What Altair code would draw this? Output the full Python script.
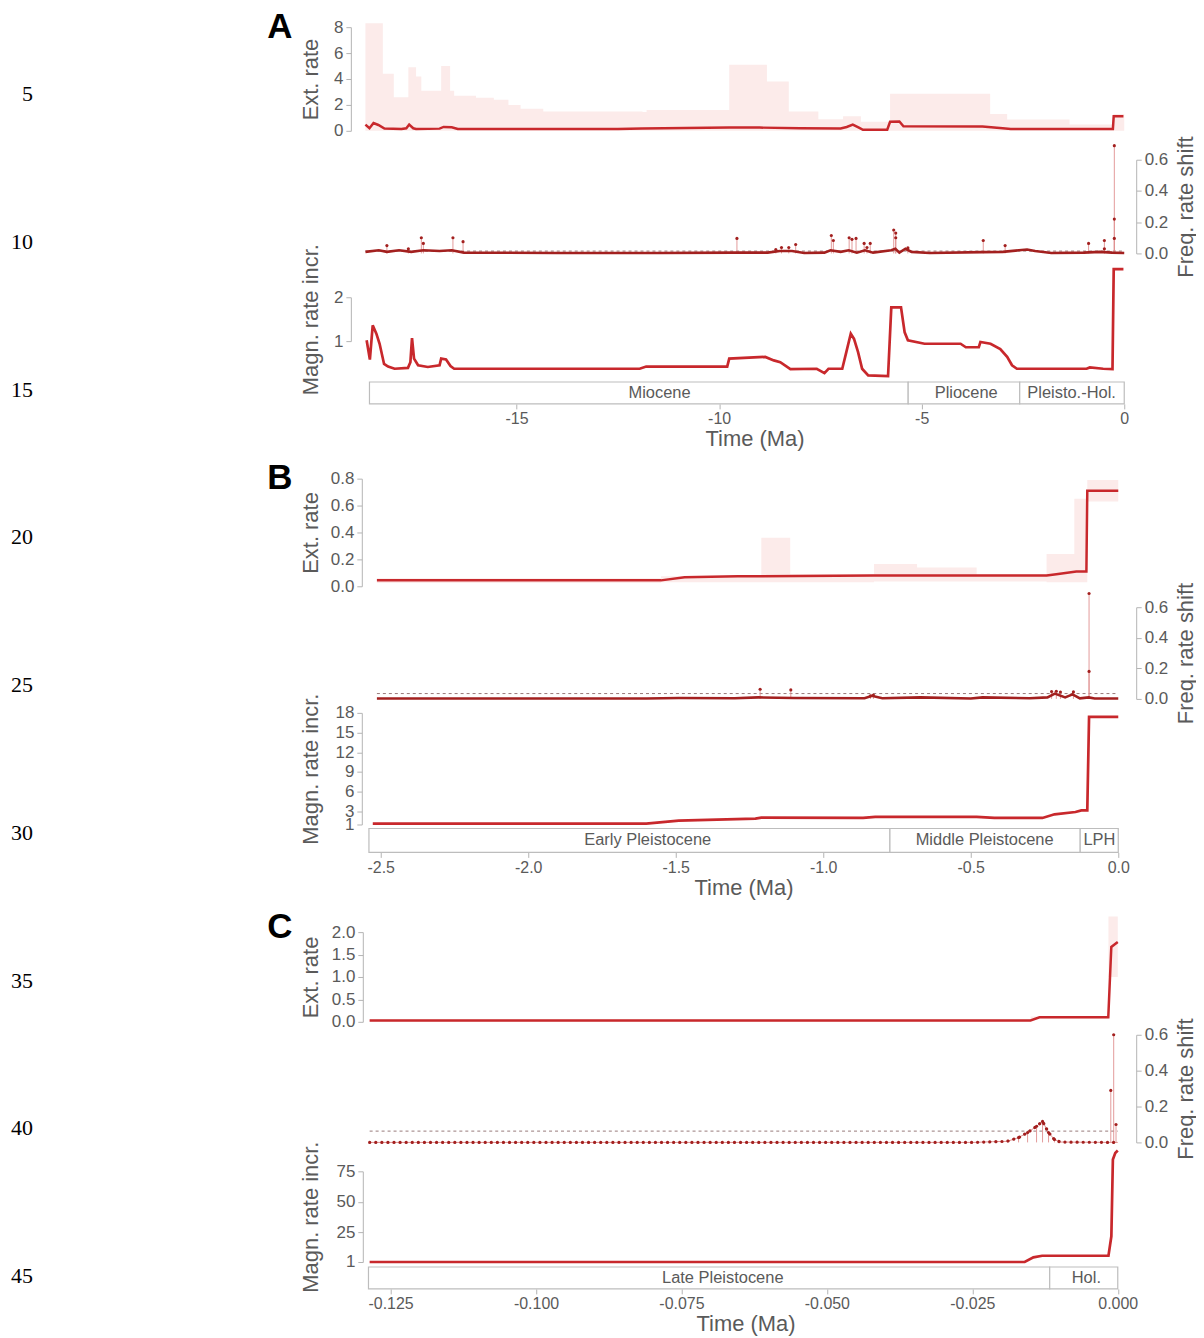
import altair as alt
import pandas as pd

# ------------------------------------------------------------------ data
LINE_NUMS = [5, 10, 15, 20, 25, 30, 35, 40, 45]

# ---- Panel A (time in Ma)
A_ext_t = [-18.73, -18.63, -18.53, -18.41, -18.26, -17.84, -17.72, -17.65, -17.55, -17.48, -16.9, -16.8,
           -16.6, -16.45, -12.5, -11.9, -9.75, -9.0, -8.0, -7.0, -6.85, -6.7, -6.55, -6.45, -5.85, -5.78,
           -5.55, -5.45, -3.5, -3.0, -2.8, -0.28, -0.26, -0.02]
A_ext_v = [0.48, 0.2, 0.6, 0.45, 0.18, 0.15, 0.2, 0.48, 0.2, 0.15, 0.17, 0.3,
           0.28, 0.15, 0.15, 0.18, 0.25, 0.25, 0.2, 0.18, 0.3, 0.48, 0.25, 0.08, 0.08, 0.7,
           0.72, 0.35, 0.33, 0.2, 0.15, 0.15, 1.13, 1.13]
A_ci_t = [-18.73, -18.3, -18.03, -17.67, -17.48, -17.35, -16.86, -16.64, -16.54, -16.45, -16.0, -15.56,
          -15.2, -14.9, -14.34, -11.89, -11.79, -9.75, -8.82, -8.28, -7.55, -6.94, -6.5, -5.78, -3.31,
          -2.89, -1.35, -0.27, 0.0]
A_ci_hi = [8.3, 4.4, 2.6, 4.9, 4.2, 3.1, 5.0, 3.1, 2.7, 2.7, 2.55, 2.4,
           2.0, 1.7, 1.5, 1.45, 1.6, 5.1, 3.8, 1.5, 0.9, 1.13, 0.7, 2.87, 1.3,
           0.87, 0.48, 1.3, 1.3]
A_ci_lo = [0.0, 0.0, 0.0, 0.0, 0.0, 0.0, 0.0, 0.0, 0.0, 0.0, 0.0, 0.0,
           0.0, 0.0, 0.0, 0.0, 0.0, 0.0, 0.0, 0.0, 0.0, 0.0, 0.0, 0.0, 0.0,
           0.0, 0.0, 0.0, 0.0]
A_spk_t = [-18.2, -17.67, -17.35, -17.3, -16.57, -16.32, -9.56, -8.6, -8.46, -8.28, -8.11, -7.23, -7.18,
           -6.79, -6.72, -6.62, -6.42, -6.35, -6.27, -5.69, -5.64, -5.64, -5.34, -3.48, -2.94, -0.88,
           -0.49, -0.49, -0.245, -0.245, -0.245]
A_spk_v = [0.05, 0.03, 0.10, 0.064, 0.10, 0.075, 0.096, 0.025, 0.038, 0.038, 0.057, 0.115, 0.083,
           0.10, 0.09, 0.096, 0.064, 0.038, 0.064, 0.15, 0.13, 0.10, 0.035, 0.083, 0.05, 0.064,
           0.083, 0.03, 0.69, 0.22, 0.096]
A_base_t = [-18.73, -18.4, -18.2, -17.9, -17.6, -17.3, -16.9, -16.6, -16.3, -14.0, -11.5, -9.6, -8.8,
            -8.5, -8.2, -7.9, -7.4, -7.25, -7.0, -6.8, -6.6, -6.4, -6.2, -5.75, -5.65, -5.55, -5.4,
            -5.25, -4.8, -3.5, -3.0, -2.6, -2.4, -2.2, -1.8, -1.0, -0.6, -0.3, 0.0]
A_base_v = [0.01, 0.02, 0.01, 0.02, 0.01, 0.02, 0.015, 0.02, 0.005, 0.003, 0.003, 0.005, 0.005,
            0.015, 0.015, 0.003, 0.005, 0.02, 0.01, 0.02, 0.005, 0.02, 0.005, 0.02, 0.03, 0.005, 0.03,
            0.01, 0.003, 0.008, 0.01, 0.02, 0.025, 0.015, 0.003, 0.005, 0.01, 0.005, 0.003]
A_thr = 0.015
A_mag_t = [-18.70, -18.62, -18.55, -18.46, -18.38, -18.27, -18.17, -18.01, -17.68, -17.62, -17.58, -17.53,
           -17.43, -17.19, -16.9, -16.86, -16.74, -16.63, -16.54, -11.96, -11.8, -9.8, -9.75, -8.86,
           -8.65, -8.49, -8.24, -7.59, -7.4, -7.3, -6.96, -6.86, -6.75, -6.67, -6.57, -6.47, -6.32,
           -5.83, -5.75, -5.51, -5.42, -5.34, -4.93, -4.04, -3.91, -3.59, -3.55, -3.3, -3.06, -2.89,
           -2.77, -2.65, -0.93, -0.85, -0.52, -0.29, -0.26, -0.02]
A_mag_v = [1.02, 0.58, 1.36, 1.17, 0.94, 0.48, 0.42, 0.37, 0.39, 0.52, 1.07, 0.6,
           0.45, 0.41, 0.45, 0.6, 0.58, 0.43, 0.37, 0.37, 0.42, 0.42, 0.6, 0.64,
           0.56, 0.52, 0.36, 0.37, 0.27, 0.37, 0.37, 0.75, 1.17, 1.05, 0.75, 0.37, 0.22,
           0.2, 1.77, 1.77, 1.2, 1.02, 0.94, 0.94, 0.86, 0.86, 0.98, 0.94, 0.82, 0.64,
           0.45, 0.37, 0.37, 0.4, 0.37, 0.36, 2.64, 2.64]
A_epochs = ["Miocene", "Pliocene", "Pleisto.-Hol."]
A_ep_start = [-18.63, -5.333, -2.58]
A_ep_end = [-5.333, -2.58, 0.0]
A_ep_lab = [-11.47, -3.9, -1.3]
A_xticks = [-15, -10, -5, 0]

# ---- Panel B
B_ext_t = [-2.513, -1.55, -1.47, -1.29, -1.21, -0.83, -0.243, -0.21, -0.142, -0.108, -0.105, 0.0]
B_ext_v = [0.044, 0.044, 0.067, 0.074, 0.074, 0.081, 0.081, 0.09, 0.11, 0.11, 0.71, 0.71]
B_ci_t = [-2.513, -1.55, -1.21, -1.112, -0.828, -0.682, -0.48, -0.243, -0.149, -0.105, 0.0]
B_ci_hi = [0.06, 0.075, 0.36, 0.09, 0.165, 0.14, 0.09, 0.24, 0.65, 0.79, 0.79]
B_ci_lo = [0.025, 0.03, 0.03, 0.03, 0.035, 0.035, 0.035, 0.03, 0.03, 0.63, 0.63]
B_spk_t = [-1.214, -1.11, -0.84, -0.83, -0.226, -0.21, -0.196, -0.152, -0.099, -0.099]
B_spk_v = [0.063, 0.059, 0.02, 0.025, 0.048, 0.05, 0.045, 0.046, 0.69, 0.18]
B_base_t = [-2.513, -1.6, -1.49, -1.3, -1.22, -1.1, -0.86, -0.835, -0.8, -0.67, -0.5, -0.46, -0.3,
            -0.24, -0.215, -0.18, -0.155, -0.13, -0.1, -0.08, 0.0]
B_base_v = [0.003, 0.003, 0.006, 0.004, 0.01, 0.006, 0.004, 0.02, 0.004, 0.01, 0.003, 0.01, 0.004,
            0.01, 0.035, 0.01, 0.03, 0.004, 0.01, 0.003, 0.003]
B_thr = 0.035
B_mag_t = [-2.527, -1.60, -1.49, -1.23, -1.21, -0.865, -0.824, -0.48, -0.42, -0.257, -0.216, -0.145,
           -0.125, -0.105, -0.099, 0.0]
B_mag_v = [1.14, 1.14, 1.6, 1.9, 2.05, 2.0, 2.15, 2.15, 2.0, 2.0, 2.55, 2.9, 3.15, 3.15, 17.4, 17.4]
B_epochs = ["Early Pleistocene", "Middle Pleistocene", "LPH"]
B_ep_start = [-2.54, -0.774, -0.129]
B_ep_end = [-0.774, -0.129, 0.0]
B_ep_lab = [-1.595, -0.453, -0.064]
B_xticks = [-2.5, -2.0, -1.5, -1.0, -0.5, 0.0]

# ---- Panel C
C_ext_t = [-0.1286, -0.0150, -0.01345, -0.00163, -0.00111, 0.0]
C_ext_v = [0.03, 0.03, 0.1, 0.1, 1.67, 1.78]
C_ci_t = [-0.1286, -0.0150, -0.0016, 0.0]
C_ci_hi = [0.06, 0.12, 2.35, 2.35]
C_ci_lo = [0.0, 0.07, 1.0, 1.0]
C_spk_t = [-0.01705, -0.0155, -0.01396, -0.01293, -0.0119, -0.01088, -0.0012, -0.0007, -0.0003]
C_spk_v = [0.027, 0.055, 0.09, 0.117, 0.055, 0.016, 0.29, 0.60, 0.10]
C_base_t = [-0.1286, -0.0247, -0.0215, -0.019, -0.01705, -0.0155, -0.01396, -0.01293, -0.0119,
            -0.01088, -0.0099, -0.0015, 0.0]
C_base_v = [0.0, 0.0, 0.004, 0.006, 0.027, 0.055, 0.09, 0.117, 0.055, 0.016, 0.002, 0.0, 0.0]
C_thr = 0.063
C_mag_t = [-0.1286, -0.0160, -0.0145, -0.0130, -0.0016, -0.0011, -0.00084, -0.00043, 0.0]
C_mag_v = [1.0, 1.0, 4.8, 6.1, 6.1, 22.0, 84.7, 90.0, 92.0]
C_epochs = ["Late Pleistocene", "Hol."]
C_ep_start = [-0.1288, -0.0117]
C_ep_end = [-0.0117, 0.0]
C_ep_lab = [-0.0679, -0.0054]
C_xticks = [-0.125, -0.1, -0.075, -0.05, -0.025, 0.0]

# ------------------------------------------------------------------ style
RED = "#c8282c"
DARK = "#a3201f"
PINK = "#fcebea"
SPIKE = "#e08f8f"
AXC = "#b4b4b4"
TXT = "#5a5a5a"
FONT = "Liberation Sans"
ORIGIN_X = 364          # page x of the plot-area left edge
RIGHT_AXIS_X = 1140     # page x of the right (freq) axis
YTITLE_X = 312          # page x of left y-axis titles
FTITLE_X = 1189         # page x of right y-axis titles


def yaxis(title, values, fmt, orient="left", axis_x=ORIGIN_X, offset=0, title_x=YTITLE_X):
    return alt.Axis(title=title, values=values, format=fmt, orient=orient, offset=offset,
                    domainColor=AXC, tickColor=AXC, tickSize=5, grid=False,
                    labelFont=FONT, labelFontSize=17, labelColor=TXT, labelPadding=3,
                    labelFlush=False, labelOverlap=False,
                    titleFont=FONT, titleFontSize=22, titleColor=TXT, titleFontWeight="normal",
                    titleAngle=270, titleAlign="center", titleBaseline="middle",
                    titleX=title_x - axis_x)


def xenc(tl, tr):
    return alt.X("t:Q", scale=alt.Scale(domain=[tl, tr], nice=False, zero=False), axis=None)


def spacer(h):
    return alt.Chart(pd.DataFrame({"s": [0]})).mark_point(opacity=0).properties(width=1, height=h)


def build_panel(P):
    zero_px = P["zero_px"]
    ppu = P["ppu"]
    tl = -zero_px / ppu
    tr_f = (RIGHT_AXIS_X - ORIGIN_X - zero_px) / ppu
    w_main = zero_px
    w_f = RIGHT_AXIS_X - ORIGIN_X
    axis_x = ORIGIN_X - P["offset"]

    # --- extinction rate
    ysc = alt.Scale(domain=P["ext_dom"], nice=False, zero=False)
    yax = yaxis("Ext. rate", P["ext_ticks"], P["ext_fmt"], axis_x=axis_x, offset=P["offset"])
    ci = pd.DataFrame({"t": P["ci_t"], "hi": P["ci_hi"], "lo": P["ci_lo"]})
    ext = pd.DataFrame({"t": P["ext_t"], "v": P["ext_v"]})
    area = alt.Chart(ci).mark_area(interpolate="step-after", color=PINK).encode(
        x=xenc(tl, 0), y=alt.Y("hi:Q", scale=ysc, axis=yax), y2="lo:Q")
    line = alt.Chart(ext).mark_line(color=RED, strokeWidth=2.5).encode(
        x=xenc(tl, 0), y=alt.Y("v:Q", scale=ysc, axis=yax))
    ext_chart = alt.layer(area, line).properties(
        width=w_main, height=P["h"][0],
        title=alt.TitleParams(P["letter"], anchor="start", frame="group", orient="top",
                              font="Liberation Sans", fontSize=35, fontWeight="bold", color="black",
                              dx=-96, dy=P["letter_dy"], baseline="alphabetic"))

    # --- frequency of rate shifts
    fsc = alt.Scale(domain=[0, 0.6], nice=False, zero=False)
    fax = yaxis("Freq. rate shift", [0, 0.2, 0.4, 0.6], ".1f", orient="right",
                axis_x=RIGHT_AXIS_X, title_x=FTITLE_X)
    spk = pd.DataFrame({"t": P["spk_t"], "v": P["spk_v"]})
    base = pd.DataFrame({"t": P["base_t"], "v": P["base_v"]})
    thr = pd.DataFrame({"t": [P["base_t"][0], 0.0], "v": [P["thr"], P["thr"]]})
    X = xenc(tl, tr_f)
    dashed = alt.Chart(thr).mark_line(color="#8c6a6a", strokeWidth=0.9, strokeDash=[3, 3]).encode(
        x=X, y=alt.Y("v:Q", scale=fsc, axis=fax))
    rules = alt.Chart(spk).mark_rule(color=SPIKE, strokeWidth=0.9).encode(
        x=X, y=alt.Y("v:Q", scale=fsc, axis=fax), y2=alt.datum(0))
    if P["dotted"]:
        base_thin = alt.Chart(base).mark_line(color=SPIKE, strokeWidth=1.0).encode(
            x=X, y=alt.Y("v:Q", scale=fsc, axis=fax))
        base_line = alt.Chart(base).mark_line(color=DARK, strokeWidth=3.2, strokeDash=[0.1, 6],
                                              strokeCap="round").encode(
            x=X, y=alt.Y("v:Q", scale=fsc, axis=fax))
        layers = [dashed, rules, base_thin, base_line]
    else:
        base_line = alt.Chart(base).mark_line(color=DARK, strokeWidth=2.6).encode(
            x=X, y=alt.Y("v:Q", scale=fsc, axis=fax))
        layers = [dashed, rules, base_line]
    pts = alt.Chart(spk).mark_point(filled=True, size=10, color=DARK, opacity=1).encode(
        x=X, y=alt.Y("v:Q", scale=fsc, axis=fax))
    layers.append(pts)
    freq_chart = alt.layer(*layers).properties(width=w_f, height=P["h"][1])

    # --- magnitude of rate increase
    msc = alt.Scale(domain=P["mag_dom"], nice=False, zero=False)
    max_ = yaxis("Magn. rate incr.", P["mag_ticks"], "d", axis_x=axis_x, offset=P["offset"])
    mag = pd.DataFrame({"t": P["mag_t"], "v": P["mag_v"]})
    mag_chart = alt.Chart(mag).mark_line(color=RED, strokeWidth=2.7).encode(
        x=xenc(tl, 0), y=alt.Y("v:Q", scale=msc, axis=max_)).properties(width=w_main, height=P["h"][2])

    # --- epoch bar + time axis
    ep = pd.DataFrame({"name": P["epochs"], "s": P["ep_start"], "e": P["ep_end"], "lab": P["ep_lab"]})
    xax = alt.Axis(values=P["xticks"], format=P["xfmt"], title="Time (Ma)", domain=False,
                   tickColor=AXC, tickSize=5, grid=False, labelFont=FONT, labelFontSize=16,
                   labelColor=TXT, labelPadding=2, labelFlush=False, labelOverlap=False,
                   titleFont=FONT, titleFontSize=22, titleColor=TXT, titleFontWeight="normal",
                   titlePadding=2, titleX=P["time_title_x"] - ORIGIN_X)
    xsc = alt.Scale(domain=[tl, 0], nice=False, zero=False)
    rect = alt.Chart(ep).mark_rect(fill="white", stroke="#bdbdbd", strokeWidth=1.2).encode(
        x=alt.X("s:Q", scale=xsc, axis=xax), x2="e:Q")
    txt = alt.Chart(ep).mark_text(font=FONT, fontSize=16.5, color=TXT, baseline="middle").encode(
        x=alt.X("lab:Q", scale=xsc, axis=xax), text="name:N")
    ep_chart = alt.layer(rect, txt).properties(width=w_main, height=P["h"][3])

    g = P["gaps"]
    return [spacer(g[0]), ext_chart, spacer(g[1]), freq_chart, spacer(g[2]), mag_chart,
            spacer(g[3]), ep_chart]


PA = dict(letter="A", letter_dy=59, zero_px=764, ppu=40.65, offset=12,
          ext_dom=[0, 8], ext_ticks=[0, 2, 4, 6, 8], ext_fmt="d",
          ci_t=A_ci_t, ci_hi=A_ci_hi, ci_lo=A_ci_lo, ext_t=A_ext_t, ext_v=A_ext_v,
          spk_t=A_spk_t, spk_v=A_spk_v, base_t=A_base_t, base_v=A_base_v, thr=A_thr, dotted=False,
          mag_dom=[1, 2], mag_ticks=[1, 2], mag_t=A_mag_t, mag_v=A_mag_v,
          epochs=A_epochs, ep_start=A_ep_start, ep_end=A_ep_end, ep_lab=A_ep_lab,
          xticks=A_xticks, xfmt="d", time_title_x=757,
          h=[104, 94, 44, 22], gaps=[16, 29, 44, 41])
PB = dict(letter="B", letter_dy=58, zero_px=758, ppu=296.0, offset=1,
          ext_dom=[0, 0.8], ext_ticks=[0, 0.2, 0.4, 0.6, 0.8], ext_fmt=".1f",
          ci_t=B_ci_t, ci_hi=B_ci_hi, ci_lo=B_ci_lo, ext_t=B_ext_t, ext_v=B_ext_v,
          spk_t=B_spk_t, spk_v=B_spk_v, base_t=B_base_t, base_v=B_base_v, thr=B_thr, dotted=False,
          mag_dom=[1, 18], mag_ticks=[1, 3, 6, 9, 12, 15, 18], mag_t=B_mag_t, mag_v=B_mag_v,
          epochs=B_epochs, ep_start=B_ep_start, ep_end=B_ep_end, ep_lab=B_ep_lab,
          xticks=B_xticks, xfmt=".1f", time_title_x=746,
          h=[108, 92, 112, 24], gaps=[75, 21, 14, 4])
PC = dict(letter="C", letter_dy=61, zero_px=757.5, ppu=5837.0, offset=0,
          ext_dom=[0, 2], ext_ticks=[0, 0.5, 1.0, 1.5, 2.0], ext_fmt=".1f",
          ci_t=C_ci_t, ci_hi=C_ci_hi, ci_lo=C_ci_lo, ext_t=C_ext_t, ext_v=C_ext_v,
          spk_t=C_spk_t, spk_v=C_spk_v, base_t=C_base_t, base_v=C_base_v, thr=C_thr, dotted=True,
          mag_dom=[1, 75], mag_ticks=[1, 25, 50, 75], mag_t=C_mag_t, mag_v=C_mag_v,
          epochs=C_epochs, ep_start=C_ep_start, ep_end=C_ep_end, ep_lab=C_ep_lab,
          xticks=C_xticks, xfmt=".3f", time_title_x=748,
          h=[90, 108, 91, 22], gaps=[80, 13, 29, 5])

items = build_panel(PA) + build_panel(PB) + build_panel(PC)
panels = alt.vconcat(*items, spacing=0, bounds="flush").resolve_scale(x="independent", y="independent")

ln = pd.DataFrame({"n": LINE_NUMS, "lab": [str(n) for n in LINE_NUMS]})
numbers = alt.Chart(ln).mark_text(font="Liberation Serif", fontSize=22, color="black",
                                  align="right", baseline="middle").encode(
    y=alt.Y("n:Q", scale=alt.Scale(domain=[2.1883, 46.038], reverse=True, nice=False, zero=False),
            axis=None),
    text="lab:N").properties(width=50, height=1300)

chart = alt.hconcat(numbers, panels, spacing=ORIGIN_X - 8 - 50, bounds="flush").resolve_scale(
    x="independent", y="independent").properties(padding=0).configure(
    locale={"number": {"decimal": ".", "thousands": ",", "grouping": [3],
                       "currency": ["$", ""], "minus": "-"}}).configure_view(stroke=None)

chart.save("out.html", embed_options={"renderer": "svg", "actions": False})
